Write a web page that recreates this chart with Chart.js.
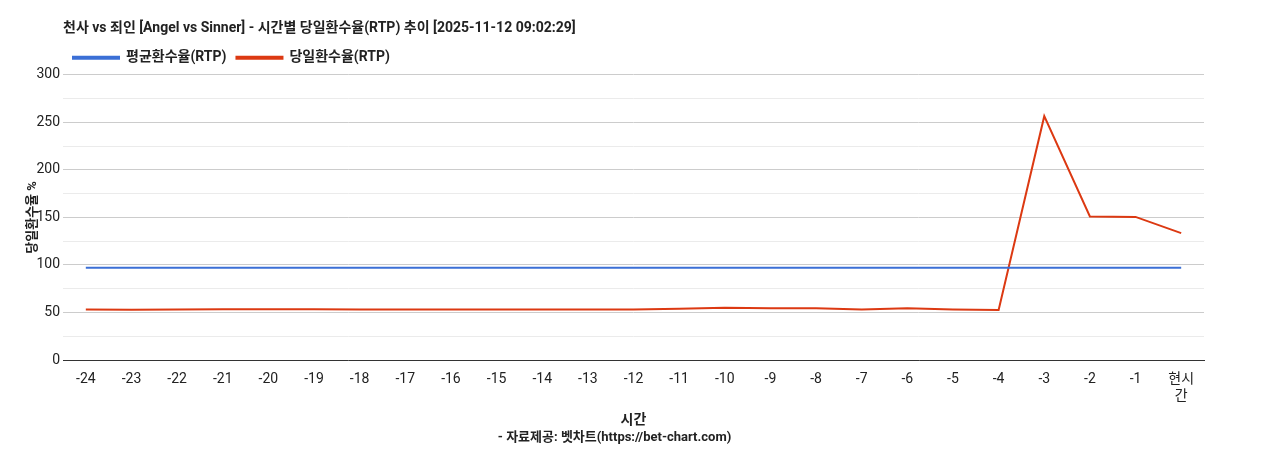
<!DOCTYPE html>
<html><head><meta charset="utf-8">
<script src="https://cdn.jsdelivr.net/npm/chart.js@4"></script>
<style>html,body{margin:0;padding:0;background:#fff}#w{width:1268px;height:450px}</style>
</head><body><div id="w"><canvas id="c"></canvas></div>
<script>
const categories=['-24','-23','-22','-21','-20','-19','-18','-17','-16','-15','-14','-13','-12','-11','-10','-9','-8','-7','-6','-5','-4','-3','-2','-1',['현시','간']];
const avgRTP=[97,97,97,97,97,97,97,97,97,97,97,97,97,97,97,97,97,97,97,97,97,97,97,97,97];
const dayRTP=[53,52.8,53,53.5,53.5,53.5,53,53,53,53,53,53,53,54,55,54.5,54.5,53,54.5,53,52.5,256.5,151,150.5,133.5];
const F="Roboto,'Noto Sans CJK KR',sans-serif";
Chart.defaults.font.family=F;
const shift={id:'shift',beforeDraw(ch){if(ch._sh)return;ch._sh=1;const d=ch.chartArea.left-ch.titleBlock.left;
ch.titleBlock.left+=d;ch.titleBlock.right+=d;ch.legend.left+=d;ch.legend.right+=d;
(ch.legend.legendHitBoxes||[]).forEach(h=>h.left+=d);}};
new Chart(document.getElementById('c'),{type:'line',plugins:[shift],
data:{labels:categories,datasets:[
{label:'평균환수율(RTP)',data:avgRTP,borderColor:'#3b6fd6',backgroundColor:'#3b6fd6',borderWidth:2,pointRadius:0,tension:0},
{label:'당일환수율(RTP)',data:dayRTP,borderColor:'#dc3912',backgroundColor:'#dc3912',borderWidth:2,pointRadius:0,tension:0}]},
options:{responsive:true,maintainAspectRatio:false,animation:false,
layout:{padding:{left:25,right:64,top:20,bottom:4}},
plugins:{title:{display:true,text:'천사 vs 죄인 [Angel vs Sinner] - 시간별 당일환수율(RTP) 추이 [2025-11-12 09:02:29]',align:'start',color:'#222',font:{size:14,weight:'bold'},padding:{top:0,bottom:4}},
legend:{align:'start',labels:{boxWidth:46,boxHeight:2,color:'#222',font:{size:14,weight:'bold'},padding:10}},
subtitle:{display:true,position:'bottom',text:'- 자료제공: 벳차트(https://bet-chart.com)',color:'#222',font:{size:13,weight:'bold'},padding:{top:2}},
tooltip:{enabled:false}},
scales:{
x:{offset:true,grid:{display:false},border:{color:'#333'},ticks:{color:'#222',font:{size:14},maxRotation:0,autoSkip:false},
title:{display:true,text:'시간',color:'#222',font:{size:14,weight:'bold'},padding:{top:4,bottom:0}}},
y:{min:0,max:300,afterFit:s=>{s.width=38},border:{display:false},
ticks:{stepSize:25,color:'#222',font:{size:14},callback:v=>v%50===0?v:''},
grid:{drawTicks:false,color:c=>c.tick.value%50===0?'#ccc':'#ebebeb'},
title:{display:true,text:'당일환수율 %',color:'#222',font:{size:13,weight:'bold'},padding:0}}}}});
</script></body></html>
